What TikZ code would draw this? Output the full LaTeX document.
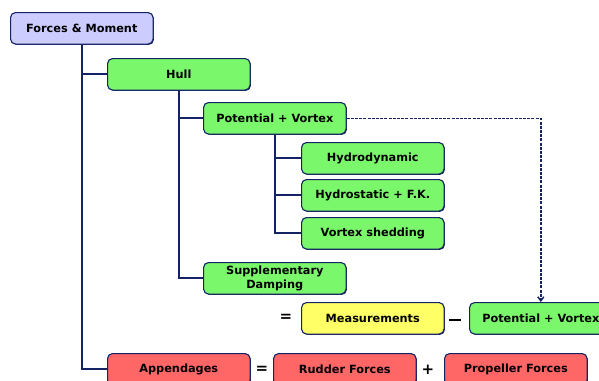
\documentclass[tikz,border=0pt]{standalone}
\usepackage{fontspec}
\setmainfont{DejaVu Sans}
\usetikzlibrary{arrows.meta,shadows}
\definecolor{navy}{RGB}{20,35,100}
\definecolor{lav}{RGB}{204,204,255}
\definecolor{grn}{RGB}{122,247,106}
\definecolor{ylw}{RGB}{255,255,102}
\definecolor{rd}{RGB}{255,102,102}
\begin{document}
\begin{tikzpicture}[x=1pt,y=-1pt,
  box/.style={draw=navy, line width=1.1pt, rounded corners=5pt,
    minimum width=142.5pt, minimum height=31.5pt, inner sep=0pt,
    anchor=north west, align=center,
    font=\bfseries\fontsize{11.3}{14}\selectfont,
    drop shadow={shadow xshift=0.8pt, shadow yshift=-0.8pt, fill=navy, opacity=1}},
  op/.style={font=\bfseries\fontsize{15}{15}\selectfont, inner sep=0pt},
  tree/.style={draw=navy, line width=2pt},
  link/.style={draw=navy, line width=1.5pt, dash pattern=on 3pt off 1.2pt,
    -{Straight Barb[length=4pt,width=6pt]}}]
\useasboundingbox (0,0) rectangle (599,380);
\clip (0,0) rectangle (599,380);

% boxes
\node[box, fill=lav] (fm)   at (10,12)  {Forces \& Moment};
\node[box, fill=grn] (hull) at (107,58) {Hull};
\node[box, fill=grn] (pv)   at (203,102) {Potential + Vortex};
\node[box, fill=grn] (hd)   at (301,142) {Hydrodynamic};
\node[box, fill=grn] (hs)   at (301,179) {Hydrostatic + F.K.};
\node[box, fill=grn] (vs)   at (301,217) {Vortex shedding};
\node[box, fill=grn] (sd)   at (203,262) {Supplementary\\Damping};
\node[box, fill=ylw] (meas) at (301,302) {Measurements};
\node[box, fill=grn] (pv2)  at (469,302) {Potential + Vortex};
\node[box, fill=rd]  (app)  at (107,353) {Appendages};
\node[box, fill=rd]  (rud)  at (273,353) {Rudder Forces};
\node[box, fill=rd]  (prop) at (444,353) {Propeller Forces};

% operators
\node[op] (eq1)   at (286,318) {=};
\node[op] (minus) at (455,320) {\rule{12pt}{2.6pt}};
\node[op] (eq2)   at (262,370) {=};
\node[op] (plus)  at (428,370) {+};

% tree connectors
\draw[tree] (fm.south) |- (hull.west);
\draw[tree] (fm.south) |- (app.west);
\draw[tree] (hull.south) |- (pv.west);
\draw[tree] (hull.south) |- (sd.west);
\draw[tree] (pv.south) |- (hd.west);
\draw[tree] (pv.south) |- (hs.west);
\draw[tree] (pv.south) |- (vs.west);

% dashed link
\draw[link] (pv.east) -| (pv2.north);
\end{tikzpicture}
\end{document}
